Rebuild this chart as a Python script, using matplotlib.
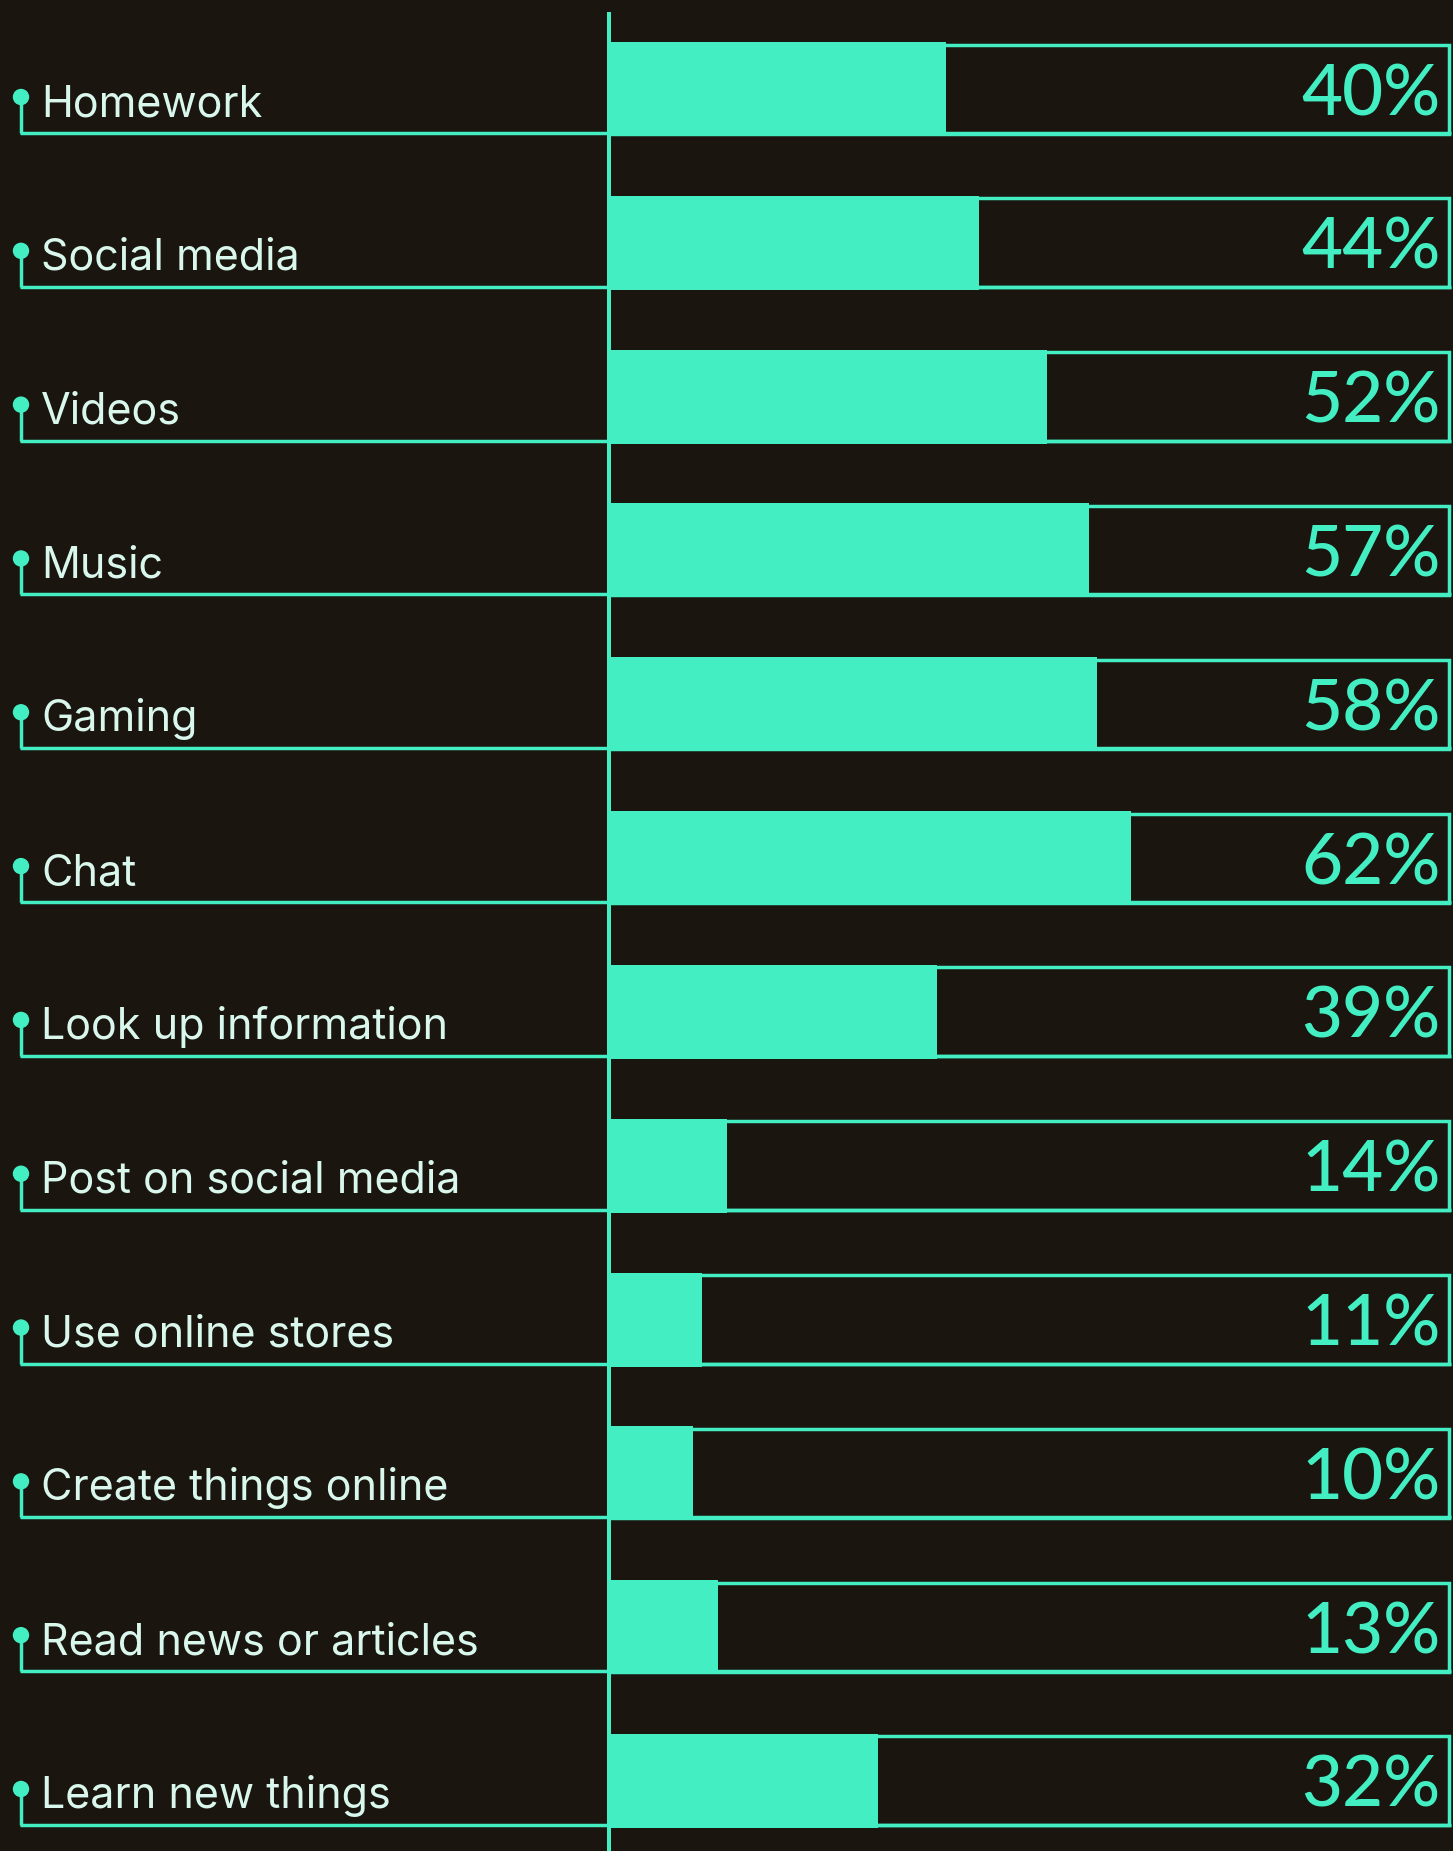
import matplotlib.pyplot as plt
from matplotlib.patches import Rectangle, Ellipse

categories = ['Homework', 'Social media', 'Videos', 'Music', 'Gaming', 'Chat',
              'Look up information', 'Post on social media', 'Use online stores',
              'Create things online', 'Read news or articles', 'Learn new things']
values = [40, 44, 52, 57, 58, 62, 39, 14, 11, 10, 13, 32]
value_labels = ['40%', '44%', '52%', '57%', '58%', '62%', '39%', '14%', '11%', '10%', '13%', '32%']

BG = '#1a150f'
MINT = '#43efc2'
LABEL = '#d9f7ec'

W, H, DPI = 1453, 1851, 100
PX_PER_PCT = 8.42
PITCH = 153.8

plt.rcParams['font.family'] = ['Inter', 'DejaVu Sans']

fig = plt.figure(figsize=(W / DPI, H / DPI), dpi=DPI, facecolor=BG)
ax = fig.add_axes([0, 0, 1, 1])
ax.set_facecolor(BG)
ax.axis('off')

# map pixels to data units
x0 = -609 / PX_PER_PCT
x1 = 100 + 2 / PX_PER_PCT
ax.set_xlim(x0, x1)
top = -89 / PITCH
bottom = 11 + (H - 1781) / PITCH
ax.set_ylim(bottom, top)

def py(p):
    return p / PITCH

# vertical axis line
ax.plot([0, 0], [top + py(12), bottom], color=MINT, lw=2.9, solid_capstyle='butt', zorder=2)

for i, (cat, v, lab) in enumerate(zip(categories, values, value_labels)):
    # 100% outline box
    ax.add_patch(Rectangle((0, i - py(44.5)), 100 - 0.2, py(89), fill=False,
                           edgecolor=MINT, lw=2.5, zorder=2))
    # bottom leader line
    ax.plot([x0 + 20 / PX_PER_PCT, 100], [i + py(44), i + py(44)], color=MINT, lw=2.5,
            solid_capstyle='butt', zorder=2)
    # stem + dot
    xd = x0 + 21 / PX_PER_PCT
    ax.plot([xd, xd], [i + py(8), i + py(44)], color=MINT, lw=2.5, solid_capstyle='butt', zorder=2)
    ax.add_patch(Ellipse((xd, i + py(8)), 15 / PX_PER_PCT, py(15), color=MINT, zorder=3))
    # value bar
    ax.barh(i, v, height=py(94), left=0, color=MINT, zorder=3)
    ax.text(x0 + 41 / PX_PER_PCT, i + py(27), cat, color=LABEL, fontsize=31,
            va='baseline', ha='left', zorder=4)
    ax.text(98.8, i + py(26), lab, color=MINT, fontsize=51, family=['Lato', 'DejaVu Sans'],
            fontweight='medium', va='baseline', ha='right', zorder=4)

fig.savefig('out.png', dpi=DPI, facecolor=BG)
